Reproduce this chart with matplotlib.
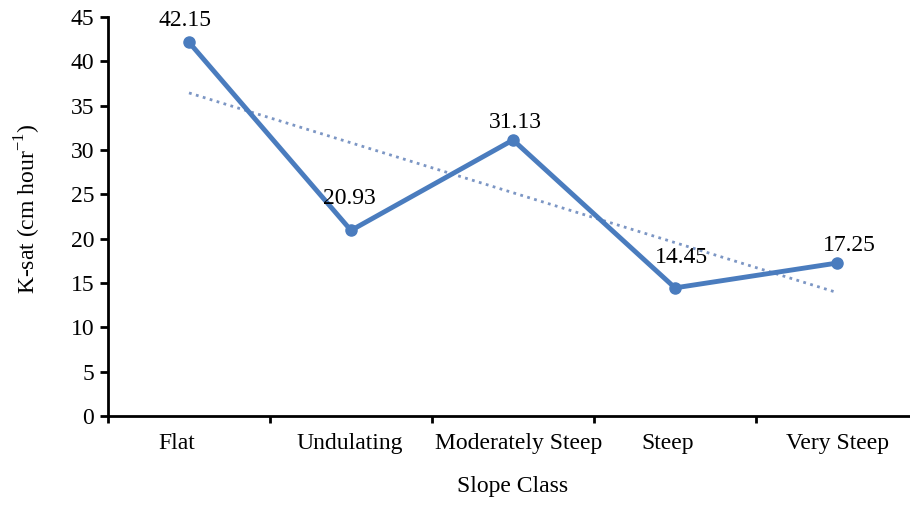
import matplotlib.pyplot as plt
import matplotlib.transforms as mtransforms
import numpy as np

categories = ["Flat", "Undulating", "Moderately Steep", "Steep", "Very Steep"]
ksat = [42.15, 20.93, 31.13, 14.45, 17.25]

# hand placement of labels (pixels), as in the original figure
label_offsets = [(-4, 22), (-2, 32), (2, 17), (6, 30), (12, 18)]
tick_shift = [-12, -1, 6, -7, 1]

plt.rcParams['font.family'] = ['Liberation Serif', 'DejaVu Serif']
plt.rcParams['mathtext.fontset'] = 'custom'
plt.rcParams['mathtext.rm'] = 'Liberation Serif'

fig = plt.figure(figsize=(9.1, 5.17), dpi=100)
ax = fig.add_axes([108 / 910, 1 - 416 / 517, 810 / 910, 399 / 517])

x = np.arange(len(categories))
ax.plot(x, ksat, color="#4A7CBE", lw=3.5, marker="o", ms=8, zorder=3)

# linear trend line
k, b = np.polyfit(x, ksat, 1)
ax.plot(x, k * x + b, color="#7C96C4", lw=2, ls=(0, (1, 1.6)), zorder=2)

for xi, v, off in zip(x, ksat, label_offsets):
    ax.annotate(f"{v:.2f}", (xi, v), xytext=off, textcoords="offset pixels",
                ha="center", va="center", fontsize=17, zorder=4)

ax.set_xlim(-0.5, len(categories) - 0.5)
ax.set_ylim(0, 45)
ax.set_yticks(range(0, 46, 5))
ax.set_xticks(x)
ax.set_xticklabels(categories, fontsize=17)
ax.set_xticks(np.arange(-0.5, len(categories), 1), minor=True)
ax.tick_params(axis="x", which="major", length=0, pad=12)
ax.tick_params(axis="x", which="minor", length=5, width=2, direction="out")
ax.tick_params(axis="y", labelsize=17, length=6, width=2, direction="out", pad=4)

for lab, dx in zip(ax.get_xticklabels(), tick_shift):
    lab.set_transform(lab.get_transform() +
                      mtransforms.ScaledTranslation(dx / 100, 0, fig.dpi_scale_trans))

for s in ["top", "right"]:
    ax.spines[s].set_visible(False)
for s in ["left", "bottom"]:
    ax.spines[s].set_linewidth(2)

ax.set_ylabel(r"K-sat (cm hour$^{\mathrm{-1}}$)", fontsize=17)
ax.yaxis.set_label_coords(-0.08, 0.52)
ax.set_xlabel("Slope Class", fontsize=17, labelpad=16)

fig.savefig("out.png", dpi=100)
